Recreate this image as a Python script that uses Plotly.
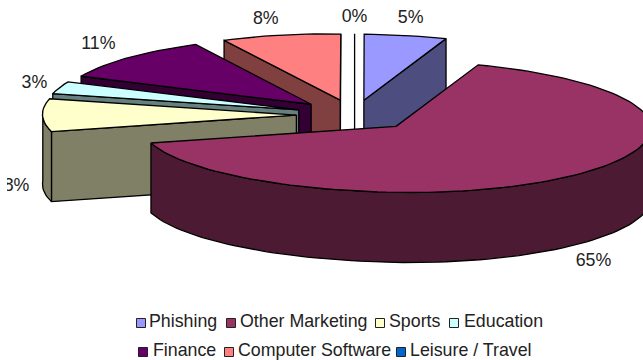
import math
import plotly.graph_objects as go

# Share of messages per category, clockwise from twelve o'clock
categories = ["Phishing", "Other Marketing", "Sports", "Education",
              "Finance", "Computer Software", "Leisure / Travel"]
shares = [5, 65, 8, 3, 11, 8, 0]
top_colors = ["#9999FF", "#993366", "#FFFFCC", "#CCFFFF", "#660066", "#FF8080", "#0066CC"]
wall_colors = ["#4D4D80", "#4D1A33", "#808066", "#668080", "#330033", "#804040", "#003366"]

# Offsets of each percent label from its slice's outer rim midpoint
label_offsets = [(5, -17), (22, 86), (-26, 71), (-25, -4), (-30, -13), (-15, -16), (0, -16)]

# Legend layout: swatch centre, first text pixel, row
legend_layout = [(141, 149, 323), (231, 240, 323), (380, 389, 323), (454, 464, 323),
                 (143, 153, 352), (229, 238, 352), (401, 410, 352)]

CX, CY = 354.6, 115.0
SCALE_X, SCALE_Y = 256.0, 66.0
EXPLODE = 0.23
DEPTH = 70.0
FONT = "Liberation Sans"
TEXT_SIZE = 17.8


def project(theta_deg, radius, mid_deg):
    """Map a point of an exploded slice on the tilted disc to plot coordinates."""
    t, m = math.radians(theta_deg), math.radians(mid_deg)
    wx = radius * math.sin(t) + EXPLODE * math.sin(m)
    wy = radius * math.cos(t) + EXPLODE * math.cos(m)
    # The viewpoint sits right of centre, so the two halves foreshorten differently
    squeeze = 1 + 0.03 * wy if wx >= 0 else 0.99 - 0.04 * wy
    return (CX + SCALE_X * wx * squeeze, CY - SCALE_Y * wy + 4 * wx)


def arc(a, b, mid):
    steps = max(int(abs(b - a) / 2), 1)
    return [project(a + (b - a) * i / steps, 1, mid) for i in range(steps + 1)]


def polygon(points, color):
    xs = [p[0] for p in points] + [points[0][0]]
    ys = [p[1] for p in points] + [points[0][1]]
    return go.Scatter(x=xs, y=ys, mode="lines", fill="toself", fillcolor=color,
                      line=dict(color="black", width=1.3), hoverinfo="skip",
                      showlegend=False)


def lowered(points):
    return [(x, y + DEPTH) for x, y in points]


def radial_wall(theta, mid, color):
    edge = [project(theta, 0, mid), project(theta, 1, mid)]
    return polygon(edge + lowered(edge)[::-1], color)


slices = []
start = 0.0
for i, share in enumerate(shares):
    end = start + share * 3.6
    slices.append((i, start, end, (start + end) / 2))
    start = end

fig = go.Figure()

# Painter's order: slices further from the viewer are drawn first
for i, a, b, mid in sorted(slices, key=lambda s: -math.cos(math.radians(s[3]))):
    top, wall = top_colors[i], wall_colors[i]
    if b - a == 0:
        fig.add_trace(radial_wall(a, mid, wall))
        continue
    if math.sin(math.radians(b)) > 0:
        fig.add_trace(radial_wall(b, mid, wall))
    if math.sin(math.radians(a)) < 0:
        fig.add_trace(radial_wall(a, mid, wall))
    lo, hi = max(a, 90), min(b, 270)
    if hi > lo:
        rim = arc(lo, hi, mid)
        fig.add_trace(polygon(rim + lowered(rim)[::-1], wall))
    fig.add_trace(polygon([project(a, 0, mid)] + arc(a, b, mid), top))

# Percent labels
for (i, a, b, mid), (dx, dy) in zip(slices, label_offsets):
    x, y = project(mid, 1, mid)
    fig.add_trace(go.Scatter(x=[x + dx], y=[y + dy], mode="text", text=[f"{shares[i]}%"],
                             textposition="middle center", cliponaxis=True,
                             textfont=dict(family=FONT, size=TEXT_SIZE, color="#222222"),
                             hoverinfo="skip", showlegend=False))

# Legend swatches and names
for name, color, (sx, tx, y) in zip(categories, top_colors, legend_layout):
    fig.add_trace(go.Scatter(x=[sx], y=[y], mode="markers",
                             marker=dict(symbol="square", size=9, color=color,
                                         line=dict(color="#222222", width=1)),
                             hoverinfo="skip", showlegend=False))
    fig.add_trace(go.Scatter(x=[tx], y=[y], mode="text", text=[name],
                             textposition="middle right", cliponaxis=False,
                             textfont=dict(family=FONT, size=TEXT_SIZE, color="#222222"),
                             hoverinfo="skip", showlegend=False))

fig.update_layout(width=643, height=360, margin=dict(l=7, r=0, t=0, b=0),
                  paper_bgcolor="white", plot_bgcolor="white", showlegend=False,
                  xaxis=dict(range=[7, 643], visible=False, fixedrange=True),
                  yaxis=dict(range=[360, 0], visible=False, fixedrange=True))
fig.write_html("out.html", config=dict(displayModeBar=False))
